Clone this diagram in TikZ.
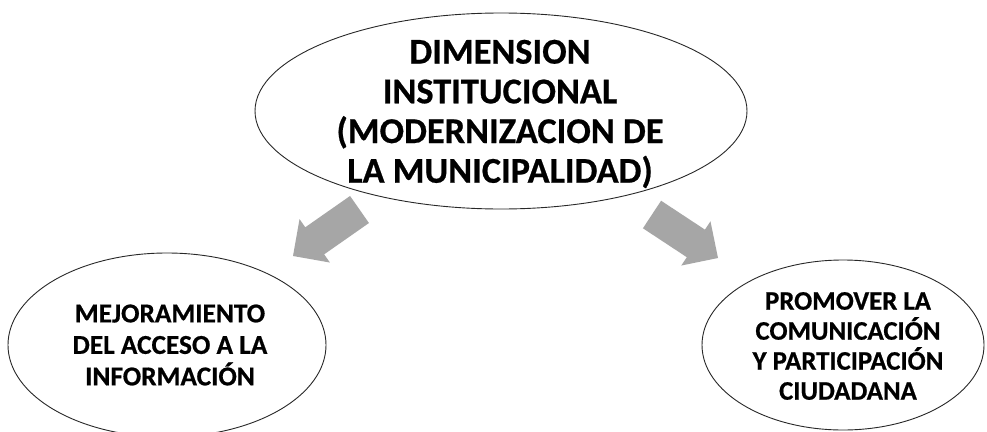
\documentclass[tikz,border=0pt]{standalone}
\usepackage{fontspec}
\setmainfont{Carlito}[BoldFeatures={FakeBold=0.6}]
\usetikzlibrary{calc,shapes.geometric}
\definecolor{arrowgray}{RGB}{166,166,166}
\definecolor{edgegray}{RGB}{40,40,40}
\newcommand{\mystack}[1]{\vbox{\lineskiplimit=-100pt\lineskip=0pt\halign{\hfil##\hfil\cr#1\crcr}}}
\tikzset{
  bubble/.style={ellipse, draw=edgegray, line width=0.9pt, fill=white, inner sep=0pt},
  bigtext/.style={font=\fontsize{36.3}{39.7}\selectfont\bfseries, inner sep=0pt},
  lefttext/.style={font=\fontsize{27.3}{31.5}\selectfont\bfseries, inner sep=0pt},
  righttext/.style={font=\fontsize{26.8}{30}\selectfont\bfseries, inner sep=0pt},
}
% block arrow from #1 (tail) to #2 (tip)
\newcommand{\blockarr}[2]{%
  \coordinate (n) at ($(#2)!26.5pt!(#1)$);
  \fill[arrowgray]
    ($(#1)!16.5pt!90:(#2)$) --
    ($(n)!16.5pt!-90:(#1)$) --
    ($(n)!26.5pt!-90:(#1)$) --
    (#2) --
    ($(n)!26.5pt!90:(#1)$) --
    ($(n)!16.5pt!90:(#1)$) --
    ($(#1)!16.5pt!-90:(#2)$) -- cycle;
}
\begin{document}
\begin{tikzpicture}[x=1pt,y=-1pt]
\clip (0,0) rectangle (987,431);
\fill[white] (0,0) rectangle (987,431);

\node[bubble, minimum width=492pt, minimum height=196pt] (top) at (501,111) {};
\node[bigtext] (toptext) at (500,114) {\mystack{DIMENSION\cr INSTITUCIONAL\cr (MODERNIZACION DE\cr LA MUNICIPALIDAD)}};

\node[bubble, minimum width=318pt, minimum height=184pt] (left) at (167,345) {};
\node[lefttext] (lefttxt) at (170,345) {\mystack{MEJORAMIENTO\cr DEL ACCESO A LA\cr INFORMACIÓN}};

\node[bubble, minimum width=282pt, minimum height=170pt] (right) at (843,345) {};
\node[righttext] (righttxt) at (848,346) {\mystack{PROMOVER LA\cr COMUNICACIÓN\cr Y PARTICIPACIÓN\cr CIUDADANA}};

\coordinate (lt) at (359.5,209.5);
\coordinate (lh) at (293,256);
\coordinate (rt) at (652,214.5);
\coordinate (rh) at (718,258);
\blockarr{lt}{lh}
\blockarr{rt}{rh}
\end{tikzpicture}
\end{document}
